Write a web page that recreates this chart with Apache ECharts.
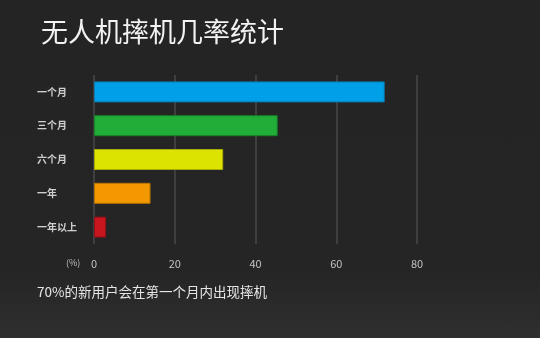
<!DOCTYPE html>
<html>
<head>
<meta charset="utf-8">
<script src="https://cdn.jsdelivr.net/npm/echarts@6/dist/echarts.min.js"></script>
<style>
  html, body { margin: 0; padding: 0; }
  body {
    width: 540px; height: 338px; overflow: hidden;
    background: linear-gradient(180deg, #242424 0%, #252525 80%, #2f2f2f 100%);
  }
  #chart { width: 540px; height: 338px; }
</style>
</head>
<body>
<div id="chart"></div>
<script>
// Drone crash rate by time since purchase
const categories = ['一个月', '三个月', '六个月', '一年', '一年以上'];
const values = [72, 45.5, 32, 14, 3];
const barColors = ['#00a0e9', '#22ac38', '#dde300', '#f39800', '#c8161e'];
const borderColors = ['#0a78ad', '#178029', '#a8ab00', '#b87400', '#8e1016'];
const xTicks = [0, 20, 40, 60, 80];

const FONT = '"Noto Sans CJK SC", "Noto Sans", sans-serif';

const chart = echarts.init(document.getElementById('chart'), null, { renderer: 'canvas' });

chart.setOption({
  backgroundColor: 'transparent',
  animation: false,
  title: {
    text: '无人机摔机几率统计',
    left: 36,
    top: 13,
    textStyle: { color: '#f2f2f2', fontSize: 27, fontWeight: 'normal', fontFamily: FONT }
  },
  grid: { left: 94, right: 123, top: 75, bottom: 94 },
  xAxis: {
    type: 'value',
    min: xTicks[0],
    max: xTicks[xTicks.length - 1],
    interval: 20,
    axisLine: { show: false },
    axisTick: { show: false },
    axisLabel: { color: '#c2c2c2', fontSize: 11, margin: 14, fontFamily: FONT },
    splitLine: { show: true, lineStyle: { color: '#3f3f3f', width: 2 } }
  },
  yAxis: {
    type: 'category',
    inverse: true,
    data: categories,
    axisLine: { show: false },
    axisTick: { show: false },
    axisLabel: {
      color: '#cfcfcf', fontSize: 10, fontWeight: 'bold', align: 'left',
      margin: 57, fontFamily: FONT
    }
  },
  series: [{
    type: 'bar',
    barWidth: 21,
    data: values.map((v, i) => ({
      value: v,
      itemStyle: { color: barColors[i], borderColor: borderColors[i], borderWidth: 1 }
    }))
  }],
  graphic: [
    {
      type: 'text',
      left: 66,
      top: 258,
      style: { text: '(%)', fill: '#bdbdbd', fontSize: 9, fontFamily: FONT }
    },
    {
      type: 'text',
      left: 37,
      top: 285,
      style: { text: '70%的新用户会在第一个月内出现摔机', fill: '#e6e6e6', fontSize: 13.5, fontFamily: FONT }
    }
  ]
});
</script>
</body>
</html>
